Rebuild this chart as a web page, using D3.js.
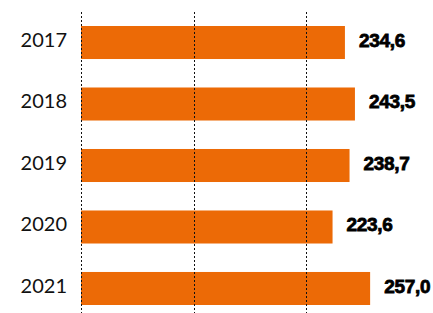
<!DOCTYPE html>
<html>
<head>
<meta charset="utf-8">
<script src="https://cdn.jsdelivr.net/npm/d3@7"></script>
<style>
  body { margin: 0; background: #fff; }
  svg { display: block; }
</style>
</head>
<body>
<div id="chart"></div>
<script>
var years = ['2017', '2018', '2019', '2020', '2021'];
var values = [234.6, 243.5, 238.7, 223.6, 257.0];
var valueLabels = ['234,6', '243,5', '238,7', '223,6', '257,0'];
var gridTicks = [0, 100, 200];

var width = 433, height = 313;
var svg = d3.select('#chart').append('svg')
    .attr('width', width)
    .attr('height', height);

var x = d3.scaleLinear().domain([0, 200]).range([81, 306]);
var y = d3.scaleBand().domain(years).range([26, 305])
    .paddingInner(0.463).paddingOuter(0);

// bars
svg.selectAll('rect.bar')
    .data(years)
    .enter().append('rect')
    .attr('class', 'bar')
    .attr('x', x(0))
    .attr('y', function (d) { return y(d); })
    .attr('width', function (d, i) { return x(values[i]) - x(0); })
    .attr('height', y.bandwidth())
    .attr('fill', '#ec6a06');

// dotted grid, drawn over the bars
svg.selectAll('line.grid')
    .data(gridTicks)
    .enter().append('line')
    .attr('class', 'grid')
    .attr('x1', function (d) { return Math.round(x(d)) + 0.5; })
    .attr('x2', function (d) { return Math.round(x(d)) + 0.5; })
    .attr('y1', 12)
    .attr('y2', height)
    .attr('stroke', '#111')
    .attr('stroke-width', 1)
    .attr('stroke-dasharray', '2,2');

// year labels
svg.selectAll('text.year')
    .data(years)
    .enter().append('text')
    .attr('class', 'year')
    .attr('x', 67)
    .attr('y', function (d) { return y(d) + 21; })
    .attr('text-anchor', 'end')
    .style('font-family', 'Lato, sans-serif')
    .style('font-size', '20px')
    .attr('fill', '#111')
    .text(function (d) { return d; });

// value labels
svg.selectAll('text.value')
    .data(years)
    .enter().append('text')
    .attr('class', 'value')
    .attr('x', function (d, i) { return x(values[i]) + 14; })
    .attr('y', function (d) { return y(d) + 21; })
    .style('font-family', '"Liberation Sans", Arial, sans-serif')
    .style('font-weight', 'bold')
    .style('font-size', '19px')
    .style('letter-spacing', '-0.3px')
    .attr('fill', '#000')
    .attr('stroke', '#000')
    .attr('stroke-width', 0.8)
    .text(function (d, i) { return valueLabels[i]; });
</script>
</body>
</html>
